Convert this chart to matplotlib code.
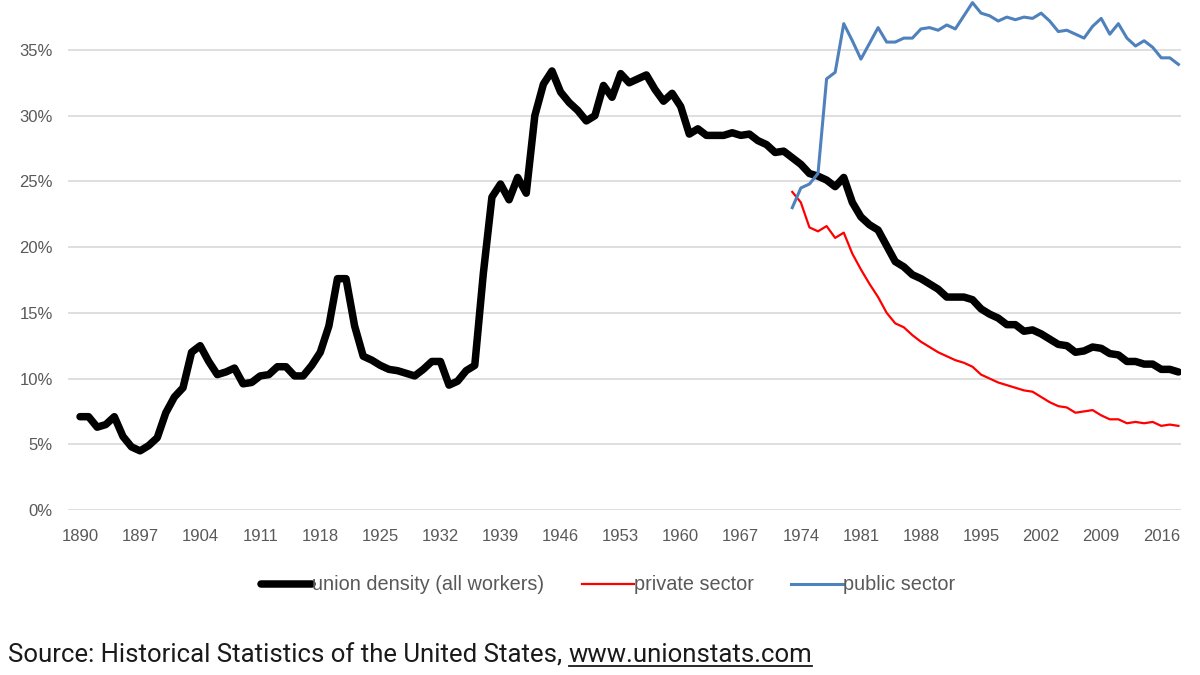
import matplotlib
matplotlib.use("Agg")
import matplotlib.pyplot as plt
from matplotlib.lines import Line2D
import numpy as np

# union membership as share of workers
years_all = list(range(1890, 2019))
union_density = [
    7.1, 7.1, 6.3, 6.5, 7.1, 5.6, 4.8, 4.5, 4.9, 5.5,          # 1890-1899
    7.4, 8.6, 9.3, 12.0, 12.5, 11.3, 10.3, 10.5, 10.8, 9.6,    # 1900-1909
    9.7, 10.2, 10.3, 10.9, 10.9, 10.2, 10.2, 11.0, 12.0, 14.0, # 1910-1919
    17.6, 17.6, 14.0, 11.7, 11.4, 11.0, 10.7, 10.6, 10.4, 10.2, # 1920-1929
    10.7, 11.3, 11.3, 9.5, 9.8, 10.6, 11.0, 18.0, 23.8, 24.8,  # 1930-1939
    23.6, 25.3, 24.1, 30.0, 32.4, 33.4, 31.8, 31.0, 30.4, 29.6, # 1940-1949
    30.0, 32.3, 31.4, 33.2, 32.5, 32.8, 33.1, 32.0, 31.1, 31.7, # 1950-1959
    30.7, 28.6, 29.0, 28.5, 28.5, 28.5, 28.7, 28.5, 28.6, 28.1, # 1960-1969
    27.8, 27.2, 27.3, 26.8, 26.3, 25.6, 25.4, 25.1, 24.6, 25.3, # 1970-1979
    23.4, 22.3, 21.7, 21.3, 20.1, 18.9, 18.5, 17.9, 17.6, 17.2, # 1980-1989
    16.8, 16.2, 16.2, 16.2, 16.0, 15.3, 14.9, 14.6, 14.1, 14.1, # 1990-1999
    13.6, 13.7, 13.4, 13.0, 12.6, 12.5, 12.0, 12.1, 12.4, 12.3, # 2000-2009
    11.9, 11.8, 11.3, 11.3, 11.1, 11.1, 10.7, 10.7, 10.5,      # 2010-2018
]

years_sector = list(range(1973, 2019))
private_sector = [
    24.2, 23.4, 21.5, 21.2, 21.6, 20.7, 21.1,                  # 1973-1979
    19.5, 18.3, 17.2, 16.2, 15.0, 14.2, 13.9, 13.3, 12.8, 12.4, # 1980-1989
    12.0, 11.7, 11.4, 11.2, 10.9, 10.3, 10.0, 9.7, 9.5, 9.3,   # 1990-1999
    9.1, 9.0, 8.6, 8.2, 7.9, 7.8, 7.4, 7.5, 7.6, 7.2,          # 2000-2009
    6.9, 6.9, 6.6, 6.7, 6.6, 6.7, 6.4, 6.5, 6.4,               # 2010-2018
]
public_sector = [
    23.0, 24.5, 24.8, 25.6, 32.8, 33.3, 37.0,                  # 1973-1979
    35.7, 34.3, 35.5, 36.7, 35.6, 35.6, 35.9, 35.9, 36.6, 36.7, # 1980-1989
    36.5, 36.9, 36.6, 37.6, 38.6, 37.8, 37.6, 37.2, 37.5, 37.3, # 1990-1999
    37.5, 37.4, 37.8, 37.2, 36.4, 36.5, 36.2, 35.9, 36.8, 37.4, # 2000-2009
    36.2, 37.0, 35.9, 35.3, 35.7, 35.2, 34.4, 34.4, 33.9,      # 2010-2018
]

tick_years = list(range(1890, 2017, 7))
y_ticks = [0, 5, 10, 15, 20, 25, 30, 35]

label_font = ['Liberation Sans', 'DejaVu Sans']
grey = '#595959'

fig = plt.figure(figsize=(12, 6.75), dpi=100)
fig.patch.set_facecolor('white')

# plot area in pixel terms: x 68..1181, y 0..510 (of 675)
ax = fig.add_axes([68 / 1200, 165 / 675, (1181 - 68) / 1200, 510 / 675])

ax.plot(years_all, union_density, color='black', lw=5.4, solid_joinstyle='round',
        solid_capstyle='round', label='union density (all workers)', zorder=3)
ax.plot(years_sector, private_sector, color='#ff0000', lw=1.6,
        label='private sector', zorder=4)
ax.plot(years_sector, public_sector, color='#4f81bd', lw=2.2,
        label='public sector', zorder=5)

ax.set_xlim(1888.6, 2018.3)
ax.set_ylim(0, 38.8)

ax.set_xticks(tick_years)
ax.set_xticklabels([str(y) for y in tick_years], family=label_font, fontsize=12, color=grey)
ax.set_yticks(y_ticks)
ax.set_yticklabels([f'{v}%' for v in y_ticks], family=label_font, fontsize=12, color=grey)
ax.tick_params(axis='both', length=0)
ax.tick_params(axis='x', pad=14)
ax.tick_params(axis='y', pad=11)

ax.grid(axis='y', color='#d9d9d9', lw=1.2, zorder=0)
ax.set_axisbelow(True)
for s in ax.spines.values():
    s.set_visible(False)

leg = fig.legend(loc='center', bbox_to_anchor=(608 / 1200, 1 - 585 / 675), ncol=3,
                 frameon=False, handlelength=2.6, handletextpad=0.0,
                 columnspacing=1.9, prop={'family': label_font, 'size': 14.3})
for t in leg.get_texts():
    t.set_color(grey)

# source line with underlined url
src_y = 1 - 655 / 675
t1 = fig.text(8 / 1200, src_y, 'Source: Historical Statistics of the United States, ',
              fontsize=18.5, family='Roboto', color='#1a1a1a', va='center', ha='left')
fig.canvas.draw()
r = fig.canvas.get_renderer()
bb = t1.get_window_extent(r)
x_url = bb.x1 / fig.bbox.width
t2 = fig.text(x_url, src_y, 'www.unionstats.com', fontsize=18.5, family='Roboto',
              color='#1a1a1a', va='center', ha='left')
bb2 = t2.get_window_extent(r)
uy = (bb2.y0 + 1) / fig.bbox.height
fig.add_artist(Line2D([bb2.x0 / fig.bbox.width, bb2.x1 / fig.bbox.width], [uy, uy],
                      transform=fig.transFigure, color='#1a1a1a', lw=1.3))

fig.savefig('out.png', dpi=100, facecolor='white')
plt.close(fig)
